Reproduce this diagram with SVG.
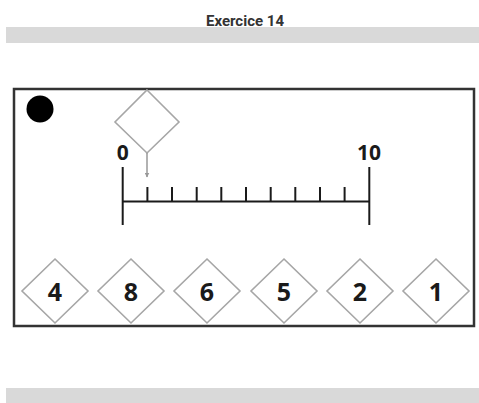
<svg xmlns="http://www.w3.org/2000/svg" width="479" height="403" viewBox="0 0 479 403">
<style>
.bar{fill:#d9d9d9}
.title{font-family:Roboto,"Liberation Sans",sans-serif;font-weight:bold;font-size:15px;fill:#333;text-anchor:middle}
.frame{fill:#fff;stroke:#333;stroke-width:2.5}
.dia{fill:#fff;stroke:#a6a6a6;stroke-width:1.6}
.num{font-family:"Open Sans","Liberation Sans",sans-serif;font-weight:bold;font-size:25px;fill:#1a1a1a;text-anchor:middle}
.lbl{font-family:"Open Sans","Liberation Sans",sans-serif;font-weight:bold;font-size:21px;fill:#1a1a1a;text-anchor:middle}
.axis{stroke:#1a1a1a;stroke-width:2;fill:none}
.tick{stroke:#1a1a1a;stroke-width:2}
.conn{stroke:#999;stroke-width:1.5;fill:none}
</style>
<defs>
<marker id="ah" viewBox="0 0 10 10" refX="9" refY="5" markerWidth="5" markerHeight="5" orient="auto" markerUnits="userSpaceOnUse">
<path d="M0,0 L10,5 L0,10 z" fill="#999"/>
</marker>
</defs>
<rect class="bar" x="6" y="27" width="473" height="16"/>
<text class="title" x="245" y="26">Exercice 14</text>
<rect class="bar" x="6" y="388" width="473" height="15"/>
<rect class="frame" x="14" y="89" width="460" height="237"/>
<circle cx="40" cy="109" r="13.5" fill="#000"/>
<g id="numberline">
<line class="axis" x1="122.7" y1="201.5" x2="369.3" y2="201.5"/>
<line class="tick" x1="122.7" y1="167" x2="122.7" y2="225"/>
<line class="tick" x1="369.3" y1="167" x2="369.3" y2="225"/>
<line class="tick" x1="147.4" y1="187" x2="147.4" y2="201.5"/>
<line class="tick" x1="172" y1="187" x2="172" y2="201.5"/>
<line class="tick" x1="196.7" y1="187" x2="196.7" y2="201.5"/>
<line class="tick" x1="221.3" y1="187" x2="221.3" y2="201.5"/>
<line class="tick" x1="246" y1="187" x2="246" y2="201.5"/>
<line class="tick" x1="270.7" y1="187" x2="270.7" y2="201.5"/>
<line class="tick" x1="295.3" y1="187" x2="295.3" y2="201.5"/>
<line class="tick" x1="320" y1="187" x2="320" y2="201.5"/>
<line class="tick" x1="344.6" y1="187" x2="344.6" y2="201.5"/>
<text class="lbl" x="122.7" y="160">0</text>
<text class="lbl" x="369" y="160">10</text>
</g>
<g id="target">
<polygon class="dia" points="147,90 179,122 147,153 115,122"/>
</g>
<g id="connectors">
<line class="conn" x1="147" y1="153" x2="147" y2="177" marker-end="url(#ah)"/>
</g>
<g id="n4"><polygon class="dia" points="55,259 88,291 55,323 22,291"/><text class="num" x="55" y="301">4</text></g>
<g id="n8"><polygon class="dia" points="131,259 164,291 131,323 98,291"/><text class="num" x="131" y="301">8</text></g>
<g id="n6"><polygon class="dia" points="207,259 240,291 207,323 174,291"/><text class="num" x="207" y="301">6</text></g>
<g id="n5"><polygon class="dia" points="284,259 317,291 284,323 251,291"/><text class="num" x="284" y="301">5</text></g>
<g id="n2"><polygon class="dia" points="360,259 393,291 360,323 327,291"/><text class="num" x="360" y="301">2</text></g>
<g id="n1"><polygon class="dia" points="436,259 469,291 436,323 403,291"/><text class="num" x="436" y="301">1</text></g>
</svg>
